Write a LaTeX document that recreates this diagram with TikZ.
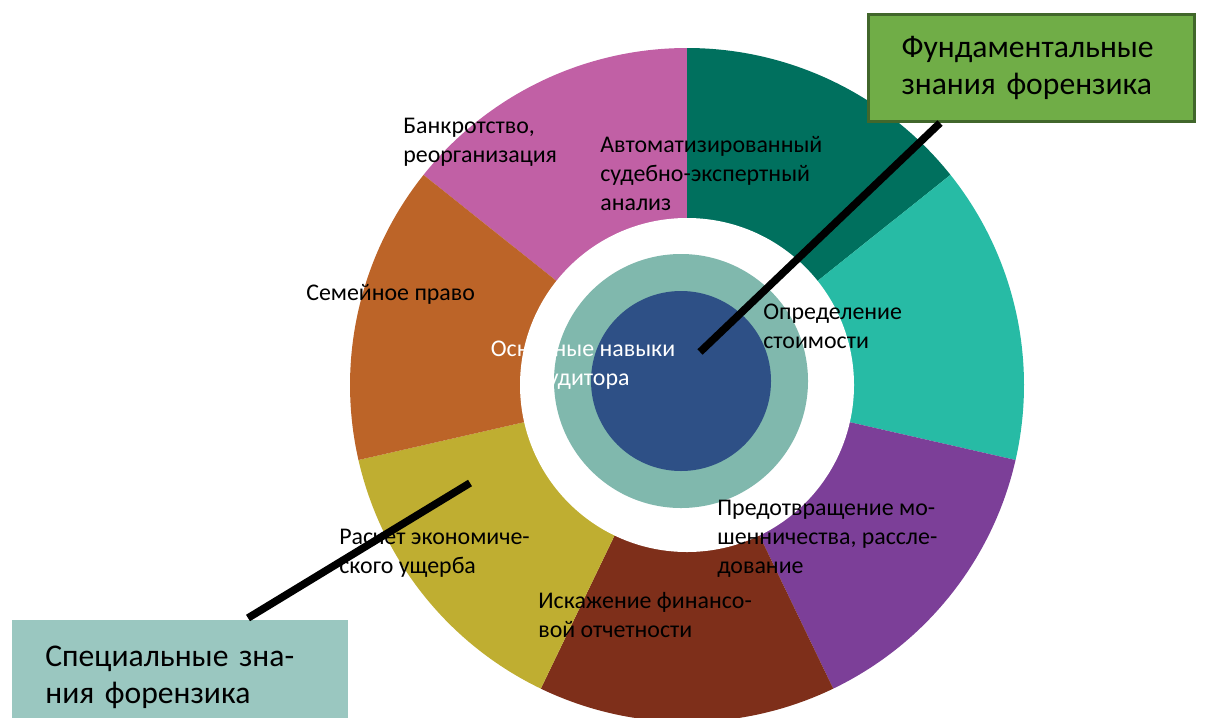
\documentclass[tikz,border=0pt]{standalone}
\usepackage{fontspec}
\setmainfont{Carlito}
\usetikzlibrary{calc}
\definecolor{segpink}{HTML}{C160A5}
\definecolor{segdeepteal}{HTML}{00705E}
\definecolor{segteal}{HTML}{27BBA5}
\definecolor{segpurple}{HTML}{7C3F98}
\definecolor{segmaroon}{HTML}{7E2F1A}
\definecolor{segolive}{HTML}{BFAE31}
\definecolor{segorange}{HTML}{BC6428}
\definecolor{coreteal}{HTML}{80B8AD}
\definecolor{coreblue}{HTML}{2E5086}
\definecolor{keygreen}{HTML}{70AD47}
\definecolor{keygreenedge}{HTML}{41672B}
\definecolor{keyteal}{HTML}{9AC7C0}
\begin{document}
\begin{tikzpicture}[x=0.02cm,y=-0.02cm,
  seglabel/.style={anchor=base west, align=left, inner sep=0pt,
    font=\fontsize{13.6}{16.5}\selectfont},
  keybox/.style={anchor=north west, align=left, inner xsep=0.66cm,
    inner ysep=0pt, font=\fontsize{18}{21.2}\selectfont},
  lead/.style={line width=4.3pt, black}]
\clip (0,0) rectangle (1212,717);
\fill[white] (0,0) rectangle (1212,717);

% outer ring of seven sectors
\begin{scope}[shift={(687,385)}, yscale=-1]
  \foreach \a/\b/\c in {90/141.43/segpink, 38.57/90/segdeepteal,
      -12.86/38.57/segteal, -64.29/-12.86/segpurple,
      -115.71/-64.29/segmaroon, -167.14/-115.71/segolive,
      141.43/192.86/segorange}
    \fill[\c] (0,0) -- (\a:337) arc[start angle=\a, end angle=\b, radius=337] -- cycle;
  \fill[white] (0,0) circle[radius=167];
\end{scope}

% core circles
\fill[coreteal] (681,381) circle[radius=127];
\fill[coreblue] (681,381) circle[radius=90];

% sector labels (placed by the baseline of their last line)
\node[seglabel] (bankr) at (403,162) {Банкротство,\\реорганизация};
\node[seglabel] (auto) at (600,210) {Автоматизированный\\судебно-экспертный\\анализ};
\node[seglabel] (value) at (763,348) {Определение\\стоимости};
\node[seglabel] (family) at (306,300) {Семейное право};
\node[seglabel] (fraud) at (717,573) {Предотвращение мо-\\шенничества, рассле-\\дование};
\node[seglabel] (damage) at (339,573) {Расчет экономиче-\\ского ущерба};
\node[seglabel] (misstate) at (538,637) {Искажение финансо-\\вой отчетности};
\node[seglabel, anchor=base, align=center, text=white] (core) at (583,385)
  {Основные навыки\\аудитора};

% leader line end points
\coordinate (fundtip) at (700,352);
\coordinate (spectip) at (470,483);

% key boxes
\node[keybox, fill=keygreen, draw=keygreenedge, line width=1.7pt,
  minimum width=325*0.02cm, minimum height=107*0.02cm, text width=260*0.02cm]
  (fund) at (867,13) {Фундаментальные\\знания форензика};
\node[keybox, fill=keyteal, minimum width=336*0.02cm,
  minimum height=114*0.02cm, text width=270*0.02cm]
  (spec) at (12,620) {Специальные зна-\\ния форензика};

\draw[lead] ($(fund.south west)+(73,0)$) -- (fundtip);
\draw[lead] ($(spec.north west)+(236,-2)$) -- (spectip);
\end{tikzpicture}
\end{document}
